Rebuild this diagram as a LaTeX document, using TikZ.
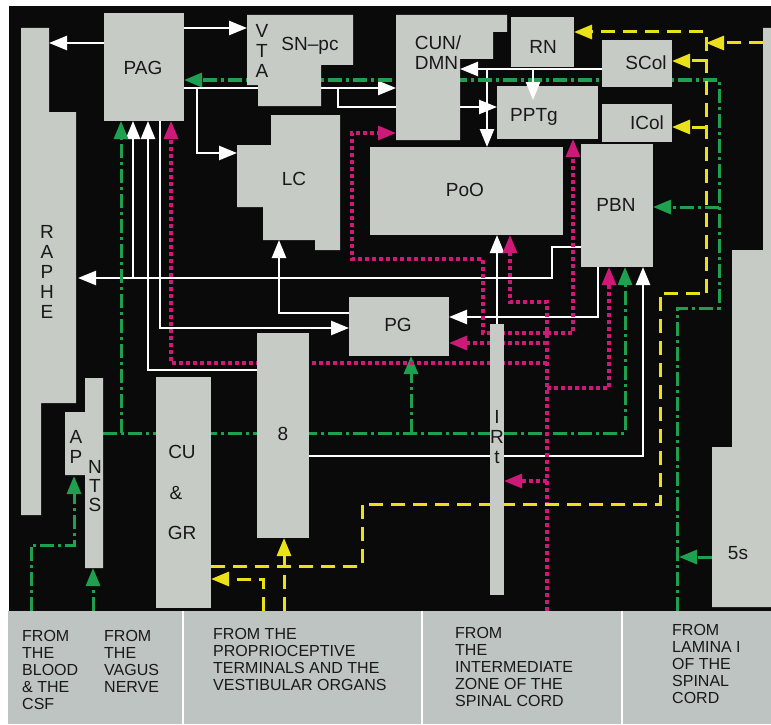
\documentclass[tikz,border=0pt]{standalone}
\usepackage{fontspec}
\setmainfont{Liberation Sans}
\usetikzlibrary{arrows.meta}
\definecolor{blk}{RGB}{10,10,10}
\definecolor{blockc}{RGB}{198,203,198}
\definecolor{legc}{RGB}{190,196,193}
\definecolor{gcol}{RGB}{30,160,80}
\definecolor{mcol}{RGB}{205,25,120}
\definecolor{ycol}{RGB}{235,225,25}
\definecolor{txt}{RGB}{25,25,25}
\pgfdeclarelayer{bg}
\pgfdeclarelayer{conn}
\pgfsetlayers{bg,conn,main}
\begin{document}
\begin{tikzpicture}[x=1pt,y=-1pt,
  blockr/.style={fill=blockc, draw=none, inner sep=0pt, anchor=north west},
  lab/.style={font=\fontsize{19}{20}\selectfont, text=txt, inner sep=0pt, align=center},
  leg/.style={font=\fontsize{16}{17}\selectfont, text=txt, inner sep=0pt, align=left, anchor=north west},
  wl/.style={white, line width=2.5pt},
  gl/.style={gcol, line width=3pt, dash pattern=on 14pt off 4pt on 3pt off 4pt},
  ml/.style={mcol, line width=3.2pt, dash pattern=on 4pt off 3pt},
  yl/.style={ycol, line width=3pt, dash pattern=on 14pt off 8pt},
  tip/.style={-{Triangle[length=18pt,width=14pt]}}]
\useasboundingbox (0,0) rectangle (771,725);
\begin{pgfonlayer}{bg}
  \fill[white] (0,0) rectangle (771,725);
  \fill[blk] (9,6) rectangle (771,611);
\end{pgfonlayer}

% ---------- blocks ----------
\fill[blockc] (21,28) -- (49,28) -- (49,112) -- (76,112) -- (76,403) -- (41,403) -- (41,515) -- (21,515) -- cycle;
\node[lab] (raphe) at (47,272) {R\\A\\P\\H\\E};
\fill[blockc] (65,412) -- (85,412) -- (85,378) -- (103,378) -- (103,568) -- (85,568) -- (85,475) -- (65,475) -- cycle;
\node[lab] (ap) at (76,447) {A\\P};
\node[lab, font=\fontsize{19}{19}\selectfont] (nts) at (95,486) {N\\T\\S};

\node[blockr, minimum width=80pt, minimum height=108pt] (PAG) at (104,13) {};
\node[lab] at (143,68) {PAG};

\fill[blockc] (247,15) -- (353,15) -- (353,65) -- (321,65) -- (321,106) -- (258,106) -- (258,85) -- (247,85) -- cycle;
\node[lab] (vta) at (262,51) {V\\T\\A};
\node[lab] (snpc) at (310,46) {SN–pc};

\fill[blockc] (396,15) -- (507,15) -- (507,32) -- (493,32) -- (493,59) -- (460,59) -- (460,140) -- (396,140) -- cycle;
\node[lab, align=left] (cun) at (438,53) {CUN/\\DMN};

\node[blockr, minimum width=63pt, minimum height=50pt] (RN) at (511,17) {};
\node[lab] at (543,47) {RN};
\node[blockr, minimum width=70pt, minimum height=47pt] (SCol) at (602,40) {};
\node[lab] at (646,63) {SCol};
\node[blockr, minimum width=70pt, minimum height=38pt] (ICol) at (602,104) {};
\node[lab] at (647,123) {ICol};
\node[blockr, minimum width=101pt, minimum height=53pt] (PPTg) at (497,86) {};
\node[lab] at (534,117) {PPTg};
\node[blockr, minimum width=193pt, minimum height=88pt] (PoO) at (370,147) {};
\node[lab] at (465,190) {PoO};
\node[blockr, minimum width=72pt, minimum height=123pt] (PBN) at (581,144) {};
\node[lab] at (616,205) {PBN};

\fill[blockc] (271,115) -- (340,115) -- (340,250) -- (315,250) -- (315,240) -- (263,240) -- (263,207) -- (237,207) -- (237,145) -- (271,145) -- cycle;
\node[lab] (lc) at (294,179) {LC};

\node[blockr, minimum width=100pt, minimum height=59pt] (PG) at (349,297) {};
\node[lab] at (398,325) {PG};
\node[blockr, minimum width=52pt, minimum height=205pt] (B8) at (257,333) {};
\node[lab] at (283,434) {8};
\node[blockr, minimum width=55pt, minimum height=231pt] (CUGR) at (156,377) {};
\node[lab] at (182,452) {CU};
\node[lab] at (176,493) {\&};
\node[lab] at (182,533) {GR};
\node[blockr, minimum width=14pt, minimum height=271pt] (IRt) at (490,324) {};
\node[lab] (irtl) at (497,437) {I\\R\\t};

\fill[blockc] (763,28) -- (771,28) -- (771,607) -- (712,607) -- (712,447) -- (732,447) -- (732,250) -- (763,250) -- cycle;
\node[lab] (fives) at (738,553) {5s};

% arrow drawn over PPTg top edge
\draw[wl,tip] (533,69) -- (533,100);

% ---------- legend ----------
\fill[legc] (8,611) rectangle (771,724);
\foreach \xx in {183,422,622} \draw[white, line width=1.6pt] (\xx,611) -- (\xx,724);
\node[leg] (l1) at (22,630) {FROM\\THE\\BLOOD\\\& THE\\CSF};
\node[leg] (l2) at (104,630) {FROM\\THE\\VAGUS\\NERVE};
\node[leg] (l3) at (213,628) {FROM THE\\PROPRIOCEPTIVE\\TERMINALS AND THE\\VESTIBULAR ORGANS};
\node[leg] (l4) at (455,627) {FROM\\THE\\INTERMEDIATE\\ZONE OF THE\\SPINAL CORD};
\node[leg] (l5) at (672,624) {FROM\\LAMINA I\\OF THE\\SPINAL\\CORD};

% ---------- connectors ----------
\begin{pgfonlayer}{conn}
% white
\draw[wl,tip] (104,43) -- (49,43);
\draw[wl,tip] (184,28) -- (247,28);
\draw[wl,tip] (184,88) -- (396,88);
\draw[wl,tip] (338,88) -- (338,107) -- (497,107);
\draw[wl,tip] (197,88) -- (197,153) -- (237,153);
\draw[wl,tip] (581,247) -- (552,247) -- (552,278) -- (78,278);
\draw[wl,tip] (133,278) -- (133,121);
\draw[wl,tip] (257,370) -- (148,370) -- (148,121);
\draw[wl,tip] (160,121) -- (160,328) -- (349,328);
\draw[wl,tip] (349,313) -- (279,313) -- (279,240);
\draw[wl,tip] (598,267) -- (598,317) -- (449,317);
\draw[wl,tip] (497,324) -- (497,235);
\draw[wl,tip] (309,456) -- (643,456) -- (643,267);
\draw[wl,tip] (602,69) -- (460,69);
\draw[wl,tip] (487,69) -- (487,147);
% green
\draw[gl,tip] (103,433) -- (625,433) -- (625,267);
\draw[gl,tip] (121,433) -- (121,121);
\draw[gl,tip] (411,433) -- (411,356);
\draw[gl,tip] (677,611) -- (677,308) -- (719,308) -- (719,80) -- (184,80);
\draw[gl,tip] (719,207) -- (653,207);
\draw[gl,tip] (712,557) -- (679,557);
\draw[gl,tip] (31,611) -- (31,545) -- (74,545) -- (74,476);
\draw[gl,tip] (93,611) -- (93,568);
% magenta
\draw[ml,tip] (547,611) -- (547,302) -- (510,302) -- (510,235);
\draw[ml,tip] (547,481) -- (504,481);
\draw[ml,tip] (547,388) -- (609,388) -- (609,267);
\draw[ml,tip] (547,363) -- (171,363) -- (171,121);
\draw[ml,tip] (547,343) -- (449,343);
\draw[ml,tip] (547,333) -- (573,333) -- (573,139);
\draw[ml,tip] (547,333) -- (483,333) -- (483,259) -- (352,259) -- (352,133) -- (396,133);
% yellow
\draw[yl,tip] (706,293) -- (706,32) -- (574,32);
\draw[yl,tip] (763,43) -- (706,43);
\draw[yl,tip] (706,61) -- (672,61);
\draw[yl,tip] (706,127) -- (672,127);
\draw[yl] (211,566) -- (362,566) -- (362,504) -- (660,504) -- (660,293) -- (706,293);
\draw[yl,tip] (263,611) -- (263,579) -- (211,579);
\draw[yl,tip] (284,611) -- (284,538);
\end{pgfonlayer}
\end{tikzpicture}
\end{document}
